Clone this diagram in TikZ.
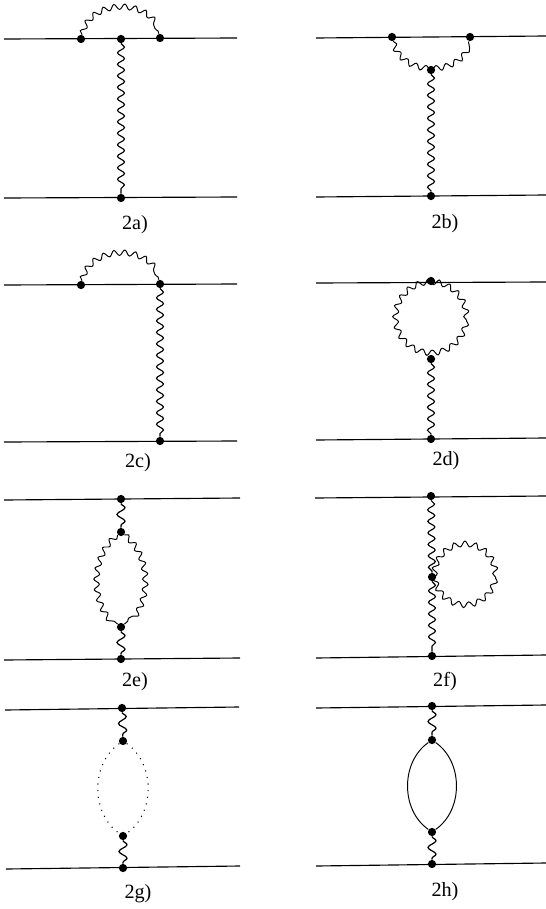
\documentclass[tikz,border=0pt]{standalone}
\usepackage{fontspec}
\setmainfont{Liberation Serif}
\usetikzlibrary{positioning,decorations.pathmorphing}

\begin{document}
\begin{tikzpicture}[
        x=0.02cm,y=-0.02cm,
        vertex/.style={circle,fill=black,inner sep=0pt,minimum size=0.165cm},
        fermion/.style={line width=0.65pt,black},
        wave/.style={line width=0.65pt,decorate,decoration={snake,segment length=0.23cm,amplitude=0.07cm}},
        shortwave/.style={line width=0.7pt,decorate,decoration={snake,segment length=0.27cm,amplitude=0.08cm}},
        loopwave/.style={line width=0.55pt,decorate,decoration={snake,segment length=0.21cm,amplitude=0.055cm}},
        ringwave/.style={circle,draw,inner sep=0pt,loopwave},
        dots/.style={line width=0.6pt,dash pattern=on 0.6pt off 3.2pt},
        plain/.style={line width=0.55pt},
        caption/.style={font=\fontsize{11.5}{13}\selectfont,inner sep=0pt},
      ]
      \useasboundingbox (0,0) rectangle (546,909);

      % 2a
      \coordinate (al) at (4,39);
      \coordinate (ar) at (237,38);
      \coordinate (bl) at (4,198);
      \coordinate (br) at (237,197);
      \node[vertex] (a1) at (81,39) {};
      \node[vertex] (a2) at (121,39) {};
      \node[vertex] (a3) at (160,38) {};
      \node[vertex] (a4) at (121,198) {};
      \draw[fermion] (al) -- (ar);
      \draw[fermion] (bl) -- (br);
      \draw[wave] (a2) -- (a4);
      \draw[loopwave] (a1) to[bend left=75,looseness=1.15] (a3);
      \node[caption] (la) at (135,225) {2a)};

      % 2b
      \coordinate (cl) at (316,38);
      \coordinate (cr) at (546,36);
      \coordinate (dl) at (316,197);
      \coordinate (dr) at (546,195);
      \node[vertex] (b1) at (392,37) {};
      \node[vertex] (b2) at (470,37) {};
      \node[vertex] (b3) at (431,70) {};
      \node[vertex] (b4) at (431,196) {};
      \draw[fermion] (cl) -- (cr);
      \draw[fermion] (dl) -- (dr);
      \draw[loopwave] (b1) to[bend right=75,looseness=1.15] (b2);
      \draw[wave] (b3) -- (b4);
      \node[caption] (lb) at (445,224) {2b)};

      % 2c
      \coordinate (el) at (4,285);
      \coordinate (er) at (237,284);
      \coordinate (fl) at (4,442);
      \coordinate (fr) at (237,441);
      \node[vertex] (c1) at (81,285) {};
      \node[vertex] (c2) at (160,284) {};
      \node[vertex] (c3) at (160,441) {};
      \draw[fermion] (el) -- (er);
      \draw[fermion] (fl) -- (fr);
      \draw[loopwave] (c1) to[bend left=75,looseness=1.15] (c2);
      \draw[wave] (c2) -- (c3);
      \node[caption] (lc) at (138,463) {2c)};

      % 2d
      \coordinate (gl) at (316,283);
      \coordinate (gr) at (546,282);
      \coordinate (hl) at (316,440);
      \coordinate (hr) at (546,438);
      \node[vertex] (d1) at (431,281) {};
      \node[vertex] (d2) at (431,359) {};
      \node[vertex] (d3) at (431,439) {};
      \node[ringwave,minimum size=1.42cm] (dring) at (431,320) {};
      \draw[fermion] (gl) -- (gr);
      \draw[fermion] (hl) -- (hr);
      \draw[wave] (d2) -- (d3);
      \node[caption] (ld) at (446,461) {2d)};

      % 2e
      \coordinate (il) at (4,500);
      \coordinate (ir) at (240,498);
      \coordinate (jl) at (4,660);
      \coordinate (jr) at (240,658);
      \node[vertex] (e1) at (121,499) {};
      \node[vertex] (e2) at (121,532) {};
      \node[vertex] (e3) at (121,627) {};
      \node[vertex] (e4) at (121,659) {};
      \draw[fermion] (il) -- (ir);
      \draw[fermion] (jl) -- (jr);
      \draw[shortwave] (e1) -- (e2);
      \draw[shortwave] (e3) -- (e4);
      \draw[loopwave] (e2) to[bend left=50,looseness=0.95] (e3);
      \draw[loopwave] (e2) to[bend right=50,looseness=0.95] (e3);
      \node[caption] (le) at (135,682) {2e)};

      % 2f
      \coordinate (kl) at (315,498);
      \coordinate (kr) at (546,496);
      \coordinate (ll) at (316,658);
      \coordinate (lr) at (546,655);
      \node[vertex] (f1) at (431,496) {};
      \node[vertex] (f2) at (432,577) {};
      \node[vertex] (f3) at (432,656) {};
      \node[ringwave,minimum size=1.22cm] (fring) at (465,577) {};
      \draw[fermion] (kl) -- (kr);
      \draw[fermion] (ll) -- (lr);
      \draw[wave] (f1) -- (f2);
      \draw[wave] (f2) -- (f3);
      \node[caption] (lf) at (445,682) {2f)};

      % 2g
      \coordinate (ml) at (5,710);
      \coordinate (mr) at (239,707);
      \coordinate (nl) at (6,869);
      \coordinate (nr) at (240,866);
      \node[vertex] (g1) at (122,708) {};
      \node[vertex] (g2) at (123,741) {};
      \node[vertex] (g3) at (123,836) {};
      \node[vertex] (g4) at (123,868) {};
      \draw[fermion] (ml) -- (mr);
      \draw[fermion] (nl) -- (nr);
      \draw[shortwave] (g1) -- (g2);
      \draw[shortwave] (g3) -- (g4);
      \draw[dots] (g2) to[bend left=55] (g3);
      \draw[dots] (g2) to[bend right=55] (g3);
      \node[caption] (lg) at (138,894) {2g)};

      % 2h
      \coordinate (ol) at (316,708);
      \coordinate (or) at (546,705);
      \coordinate (pl) at (316,866);
      \coordinate (pr) at (546,863);
      \node[vertex] (h1) at (432,706) {};
      \node[vertex] (h2) at (432,740) {};
      \node[vertex] (h3) at (432,832) {};
      \node[vertex] (h4) at (432,864) {};
      \draw[fermion] (ol) -- (or);
      \draw[fermion] (pl) -- (pr);
      \draw[shortwave] (h1) -- (h2);
      \draw[shortwave] (h3) -- (h4);
      \draw[plain] (h2) to[bend left=55] (h3);
      \draw[plain] (h2) to[bend right=55] (h3);
      \node[caption] (lh) at (445,892) {2h)};
    \end{tikzpicture}
\end{document}
